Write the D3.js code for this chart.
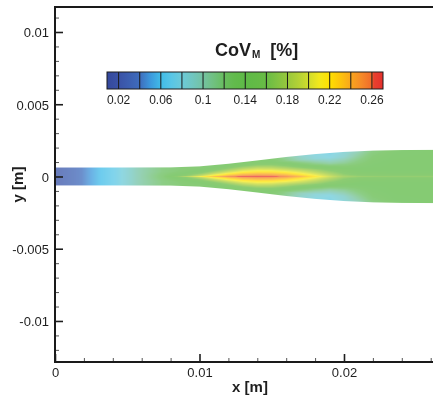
<!DOCTYPE html>
<html>
<head>
<meta charset="utf-8">
<script src="https://cdn.jsdelivr.net/npm/d3@7"></script>
<style>
  html, body { margin: 0; padding: 0; background: #fff; }
  #wrap { position: relative; width: 433px; height: 399px; overflow: hidden; }
  #wrap canvas, #wrap svg { position: absolute; left: 0; top: 0; }
  text { font-family: "Liberation Sans", Arial, Helvetica, sans-serif; fill: #1e1e1e; }
</style>
</head>
<body>
<div id="wrap">
  <canvas id="field" width="433" height="399"></canvas>
  <svg id="chart" width="433" height="399"></svg>
</div>
<script>
// ---- Jet outline: half-width [m] along the axis ----
const outlineX   = [0, 0.004, 0.008, 0.010, 0.012, 0.014, 0.016, 0.018, 0.020, 0.022, 0.024, 0.0262];
const halfWidth  = [0.00062, 0.00062, 0.00063, 0.0007, 0.00088, 0.00111, 0.00135, 0.00155, 0.0017, 0.00179, 0.00183, 0.00184];

// ---- CoV_M field sampled at axial stations and normalised radius |y|/h ----
const fieldX    = [0, 0.0014, 0.003, 0.0042, 0.0058, 0.0075, 0.009, 0.010, 0.011, 0.012, 0.013, 0.014, 0.015, 0.016, 0.017, 0.018, 0.019, 0.020, 0.021, 0.022, 0.0235, 0.0262];
const etaLevels = [0, 0.1, 0.3, 0.55, 0.8, 1.0];
const covEta000 = [0.02, 0.033, 0.058, 0.072, 0.10, 0.125, 0.18, 0.208, 0.236, 0.256, 0.265, 0.267, 0.265, 0.256, 0.24, 0.218, 0.195, 0.175, 0.168, 0.166, 0.165, 0.165];
const covEta010 = [0.02, 0.033, 0.058, 0.072, 0.10, 0.125, 0.158, 0.186, 0.214, 0.234, 0.246, 0.249, 0.246, 0.236, 0.22, 0.202, 0.182, 0.162, 0.15, 0.148, 0.146, 0.146];
const covEta030 = [0.02, 0.033, 0.058, 0.072, 0.10, 0.123, 0.142, 0.162, 0.186, 0.204, 0.216, 0.219, 0.214, 0.202, 0.188, 0.172, 0.155, 0.144, 0.14, 0.14, 0.14, 0.14];
const covEta055 = [0.02, 0.033, 0.058, 0.072, 0.10, 0.12, 0.132, 0.142, 0.156, 0.172, 0.184, 0.187, 0.178, 0.16, 0.138, 0.12, 0.108, 0.112, 0.124, 0.135, 0.14, 0.14];
const covEta080 = [0.02, 0.033, 0.058, 0.072, 0.10, 0.12, 0.13, 0.132, 0.138, 0.145, 0.15, 0.15, 0.14, 0.118, 0.098, 0.085, 0.08, 0.09, 0.11, 0.128, 0.138, 0.14];
const covEta100 = [0.02, 0.033, 0.058, 0.072, 0.10, 0.12, 0.13, 0.13, 0.132, 0.138, 0.142, 0.14, 0.13, 0.11, 0.09, 0.08, 0.075, 0.085, 0.10, 0.12, 0.135, 0.14];

// ---- Colour map ----
const cmapValues = [0.009, 0.02, 0.04, 0.05, 0.06, 0.07, 0.08, 0.09, 0.10, 0.11, 0.12, 0.13, 0.14, 0.16, 0.17, 0.18, 0.19, 0.20, 0.21, 0.22, 0.23, 0.24, 0.25, 0.26, 0.262, 0.2705];
const cmapColors = ["#34489c", "#3a52a6", "#3e6cbc", "#3c98dc", "#40bce8", "#58c6e6", "#6ccad8", "#70c6c0", "#74c2a2", "#70c080", "#68bd5e", "#62bb4c", "#5eba47", "#68bc45", "#80c242", "#98c83c", "#b2d136", "#d0dc2c", "#f2e81c", "#ffe000", "#fdc40c", "#f9a61c", "#f58a28", "#f06a2a", "#e8402e", "#e5302c"];
const cbLevels = [0.02, 0.04, 0.06, 0.08, 0.10, 0.12, 0.14, 0.16, 0.18, 0.20, 0.22, 0.24, 0.26];
const cbLabels = [0.02, 0.06, 0.10, 0.14, 0.18, 0.22, 0.26];

// ---- Axis ticks ----
const xMajor = [0, 0.01, 0.02];
const xMinor = [0.002, 0.004, 0.006, 0.008, 0.012, 0.014, 0.016, 0.018, 0.022, 0.024, 0.026];
const yMajor = [-0.01, -0.005, 0, 0.005, 0.01];
const yMinor = [-0.012, -0.011, -0.009, -0.008, -0.007, -0.006, -0.004, -0.003, -0.002, -0.001,
                0.001, 0.002, 0.003, 0.004, 0.006, 0.007, 0.008, 0.009, 0.011];

const W = 433, H = 399;
const x = d3.scaleLinear().domain([0, 0.02616]).range([55, 433]);
const y = d3.scaleLinear().domain([-0.01284, 0.01173]).range([362, 7]);
const color = d3.scaleLinear().domain(cmapValues).range(cmapColors)
  .interpolate(d3.interpolateRgb).clamp(true);

// ---- Flood plot of the field ----
(function drawField() {
  const canvas = document.getElementById("field");
  const ctx = canvas.getContext("2d");
  const img = ctx.createImageData(W, H);
  const hwAt = d3.scaleLinear().domain(outlineX).range(halfWidth).clamp(true);
  const rows = [covEta000, covEta010, covEta030, covEta055, covEta080, covEta100]
    .map(r => d3.scaleLinear().domain(fieldX).range(r).clamp(true));
  const x0 = Math.floor(x(0)), x1 = Math.ceil(x.range()[1]);
  for (let px = x0; px < x1; px++) {
    const xm = x.invert(px + 0.5);
    if (xm < 0) continue;
    const hw = hwAt(xm);
    const radial = d3.scaleLinear().domain(etaLevels).range(rows.map(s => s(xm))).clamp(true);
    const yTop = y(hw), yBot = y(-hw);
    for (let py = Math.floor(yTop); py < Math.ceil(yBot); py++) {
      const cover = Math.max(0, Math.min(py + 1, yBot) - Math.max(py, yTop));
      if (cover <= 0) continue;
      const ym = y.invert(py + 0.5);
      const eta = Math.min(1, Math.abs(ym) / hw);
      // flood colours are drawn slightly lightened
      const c = d3.rgb(d3.interpolateRgb(color(radial(eta)), "#ffffff")(0.24));
      const i = (py * W + px) * 4;
      img.data[i] = c.r; img.data[i + 1] = c.g; img.data[i + 2] = c.b;
      img.data[i + 3] = Math.round(255 * cover);
    }
  }
  ctx.putImageData(img, 0, 0);
})();

const svg = d3.select("#chart");

// ---- Axes ----
const axisG = svg.append("g");
axisG.append("g").attr("transform", `translate(0,${y.range()[0]})`)
  .call(d3.axisBottom(x).tickValues(xMinor).tickSize(-4).tickFormat(""))
  .call(g => g.select(".domain").remove())
  .call(g => g.selectAll("line").attr("stroke", "#555").attr("stroke-width", 1));
axisG.append("g").attr("transform", `translate(${x(0)},0)`)
  .call(d3.axisLeft(y).tickValues(yMinor).tickSize(-4).tickFormat(""))
  .call(g => g.select(".domain").remove())
  .call(g => g.selectAll("line").attr("stroke", "#555").attr("stroke-width", 1));

// plain hyphen for negative numbers
const fmt = d => d === 0 ? "0" : d3.format("~g")(d).replace("\u2212", "-");
axisG.append("g").attr("transform", `translate(0,${y.range()[0]})`)
  .call(d3.axisBottom(x).tickValues(xMajor).tickSize(-8).tickPadding(6).tickFormat(fmt))
  .call(g => g.select(".domain").remove())
  .call(g => g.selectAll("line").attr("stroke", "#1e1e1e").attr("stroke-width", 1.6))
  .call(g => g.selectAll("text").attr("font-size", 13).attr("fill", "#1e1e1e")
    .attr("font-family", '"Liberation Sans", Arial, sans-serif'));
axisG.append("g").attr("transform", `translate(${x(0)},0)`)
  .call(d3.axisLeft(y).tickValues(yMajor).tickSize(-8).tickPadding(6).tickFormat(fmt))
  .call(g => g.select(".domain").remove())
  .call(g => g.selectAll("line").attr("stroke", "#1e1e1e").attr("stroke-width", 1.6))
  .call(g => g.selectAll("text").attr("font-size", 13).attr("fill", "#1e1e1e").attr("dy", "0.38em")
    .attr("font-family", '"Liberation Sans", Arial, sans-serif'));

// frame: top, left and bottom edges
axisG.append("path")
  .attr("d", `M${x.range()[1]},${y.range()[1]}H${x(0)}V${y.range()[0]}H${x.range()[1]}`)
  .attr("fill", "none").attr("stroke", "#1a1a1a").attr("stroke-width", 2);

// axis titles
svg.append("text").attr("x", 250).attr("y", 391.5).attr("text-anchor", "middle")
  .attr("font-size", 15).attr("font-weight", "bold").text("x [m]");
svg.append("text").attr("transform", `translate(23,${(y.range()[0] + y.range()[1]) / 2}) rotate(-90)`)
  .attr("text-anchor", "middle").attr("font-size", 15).attr("font-weight", "bold").text("y [m]");

// ---- Colour bar ----
const cbX = d3.scaleLinear().domain([cmapValues[0], cmapValues[cmapValues.length - 1]]).range([107, 383]);
const cbTop = 72, cbH = 17;
const grad = svg.append("defs").append("linearGradient").attr("id", "cbGrad")
  .attr("gradientUnits", "userSpaceOnUse")
  .attr("x1", cbX.range()[0]).attr("x2", cbX.range()[1]).attr("y1", 0).attr("y2", 0);
grad.selectAll("stop").data(cmapValues).join("stop")
  .attr("offset", d => (cbX(d) - cbX.range()[0]) / (cbX.range()[1] - cbX.range()[0]))
  .attr("stop-color", d => color(d));
const cb = svg.append("g");
cb.append("rect").attr("x", cbX.range()[0]).attr("y", cbTop)
  .attr("width", cbX.range()[1] - cbX.range()[0]).attr("height", cbH)
  .attr("fill", "url(#cbGrad)").attr("stroke", "#1a1a1a").attr("stroke-width", 1);
cb.selectAll("line.lvl").data(cbLevels).join("line").attr("class", "lvl")
  .attr("x1", d => cbX(d)).attr("x2", d => cbX(d))
  .attr("y1", cbTop).attr("y2", cbTop + cbH)
  .attr("stroke", "#1a1a1a").attr("stroke-width", 1);
cb.selectAll("text.lab").data(cbLabels).join("text").attr("class", "lab")
  .attr("x", d => cbX(d)).attr("y", 103.5).attr("text-anchor", "middle")
  .attr("font-size", 12).text(d => d3.format("~g")(d));

const title = svg.append("text").attr("x", 215).attr("y", 56)
  .attr("font-size", 18).attr("font-weight", "bold");
title.append("tspan").text("CoV");
title.append("tspan").attr("font-size", 10).attr("dx", 1).attr("dy", 2).text("M");
title.append("tspan").attr("dy", -2).attr("xml:space", "preserve").text("  [%]");
</script>
</body>
</html>
